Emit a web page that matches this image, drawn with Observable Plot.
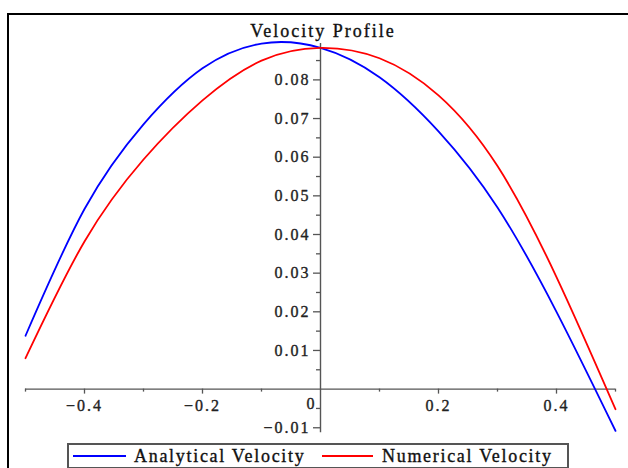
<!DOCTYPE html>
<html>
<head>
<meta charset="utf-8">
<script src="https://cdn.jsdelivr.net/npm/d3@7"></script>
<script src="https://cdn.jsdelivr.net/npm/@observablehq/plot@0.6"></script>
<style>
  html, body { margin: 0; padding: 0; background: #fff; }
  #wrap { position: relative; width: 628px; height: 468px; overflow: hidden; background: #fff; }
  #frame { position: absolute; left: 7px; top: 13px; width: 700px; height: 600px; border-left: 2px solid #000; border-top: 2px solid #000; }
  #chart { position: absolute; left: 0; top: 0; }
  #title { position: absolute; top: 22px; left: 0; width: 646px; text-align: center; font-family: "Liberation Serif", serif; font-size: 18px; line-height: 18px; letter-spacing: 2px; color: #111; -webkit-text-stroke: 0.35px #111; }
  #legend { position: absolute; left: 67px; top: 443px; width: 498px; height: 22px; border: 2px solid #555; font-family: "Liberation Serif", serif; font-size: 18px; letter-spacing: 1.7px; color: #111; -webkit-text-stroke: 0.35px #111; }
  .sw { position: absolute; top: 10px; height: 2px; }
  .lt { position: absolute; top: 1px; line-height: 20px; white-space: nowrap; }
</style>
</head>
<body>
<div id="wrap">
  <div id="frame"></div>
  <div id="chart"></div>
  <div id="title">Velocity Profile</div>
  <div id="legend"></div>
</div>
<script>
// ---- data ----
const seriesNames = ["Analytical Velocity", "Numerical Velocity"];
const seriesColors = ["#0000ff", "#ff0000"];

const positionX = [-0.5, -0.4, -0.3, -0.2, -0.1, 0, 0.1, 0.2, 0.3, 0.4, 0.5];
const analyticalV = [0.0138, 0.0466, 0.0685, 0.0830, 0.0894, 0.0883, 0.0807, 0.0667, 0.0470, 0.0200, -0.0108];
const numericalV  = [0.0080, 0.0382, 0.0594, 0.0747, 0.0850, 0.0883, 0.0856, 0.0760, 0.0577, 0.0290, -0.0052];

const xMajorTicks = [-0.4, -0.2, 0.2, 0.4];
const xMinorTicks = [-0.5, -0.3, -0.1, 0.1, 0.3, 0.5];
const xTickLabels = ["\u22120.4", "\u22120.2", "0.2", "0.4"];
const yMajorTicks = [-0.01, 0.01, 0.02, 0.03, 0.04, 0.05, 0.06, 0.07, 0.08];
const yMinorTicks = [-0.005, 0.005, 0.015, 0.025, 0.035, 0.045, 0.055, 0.065, 0.075, 0.085];
const yTickLabels = ["\u22120.01", "0.01", "0.02", "0.03", "0.04", "0.05", "0.06", "0.07", "0.08"];
const zeroLabel = ["0"];

// ---- build table ----
const rows = [
  ...positionX.map((x, i) => ({x, v: analyticalV[i], s: seriesNames[0]})),
  ...positionX.map((x, i) => ({x, v: numericalV[i], s: seriesNames[1]}))
];
const allV = rows.map(d => d.v);
const vMin = d3.min(allV) - 0.0005, vMax = d3.max(allV);

const axisColor = "#555";
const labelFont = "Liberation Serif";
const labelColor = "#222";

const chart = Plot.plot({
  width: 628,
  height: 468,
  marginLeft: 25,
  marginRight: 13,
  marginTop: 33,
  marginBottom: 33,
  x: {domain: [-0.5, 0.5], axis: null},
  y: {domain: [-0.012, 0.092], axis: null},
  color: {domain: seriesNames, range: seriesColors},
  style: {background: "transparent", overflow: "visible"},
  marks: [
    Plot.ruleY([0], {x1: -0.5, x2: 0.5, stroke: axisColor, strokeWidth: 1.4}),
    Plot.ruleX([0], {y1: vMin, y2: vMax, stroke: axisColor, strokeWidth: 1.4}),
    Plot.ruleX(xMajorTicks, {x: d => d, y1: 0, y2: 0, insetBottom: -5, stroke: axisColor, strokeWidth: 1.3}),
    Plot.ruleX(xMinorTicks, {x: d => d, y1: 0, y2: 0, insetBottom: -3, stroke: axisColor, strokeWidth: 1.3}),
    Plot.ruleY(yMajorTicks, {y: d => d, x1: 0, x2: 0, insetLeft: -7, stroke: axisColor, strokeWidth: 1.3}),
    Plot.ruleY(yMinorTicks, {y: d => d, x1: 0, x2: 0, insetLeft: -4, stroke: axisColor, strokeWidth: 1.3}),
    Plot.text(xMajorTicks, {x: d => d, y: 0, text: (d, i) => xTickLabels[i], dy: 17, fontFamily: labelFont, fontSize: 16, fill: labelColor, stroke: labelColor, strokeWidth: 0.35}),
    Plot.text(yMajorTicks, {x: 0, y: d => d, text: (d, i) => yTickLabels[i], dx: -10, textAnchor: "end", fontFamily: labelFont, fontSize: 16, fill: labelColor, stroke: labelColor, strokeWidth: 0.35}),
    Plot.text(zeroLabel, {x: 0, y: 0, text: d => d, dx: -4, dy: 15, textAnchor: "end", fontFamily: labelFont, fontSize: 16, fill: labelColor, stroke: labelColor, strokeWidth: 0.35}),
    Plot.line(rows, {x: "x", y: "v", z: "s", stroke: "s", strokeWidth: 1.8, curve: "natural"})
  ]
});
chart.querySelectorAll("text").forEach(t => t.style.letterSpacing = "2px");
document.getElementById("chart").appendChild(chart);

// legend
const legend = document.getElementById("legend");
const legendItems = [
  {swLeft: 4, swWidth: 53, textLeft: 65},
  {swLeft: 253, swWidth: 51, textLeft: 313}
];
seriesNames.forEach((name, i) => {
  const sw = document.createElement("div");
  sw.className = "sw";
  sw.style.left = legendItems[i].swLeft + "px";
  sw.style.width = legendItems[i].swWidth + "px";
  sw.style.background = seriesColors[i];
  legend.appendChild(sw);
  const t = document.createElement("div");
  t.className = "lt";
  t.style.left = legendItems[i].textLeft + "px";
  t.textContent = name;
  legend.appendChild(t);
});
</script>
</body>
</html>
